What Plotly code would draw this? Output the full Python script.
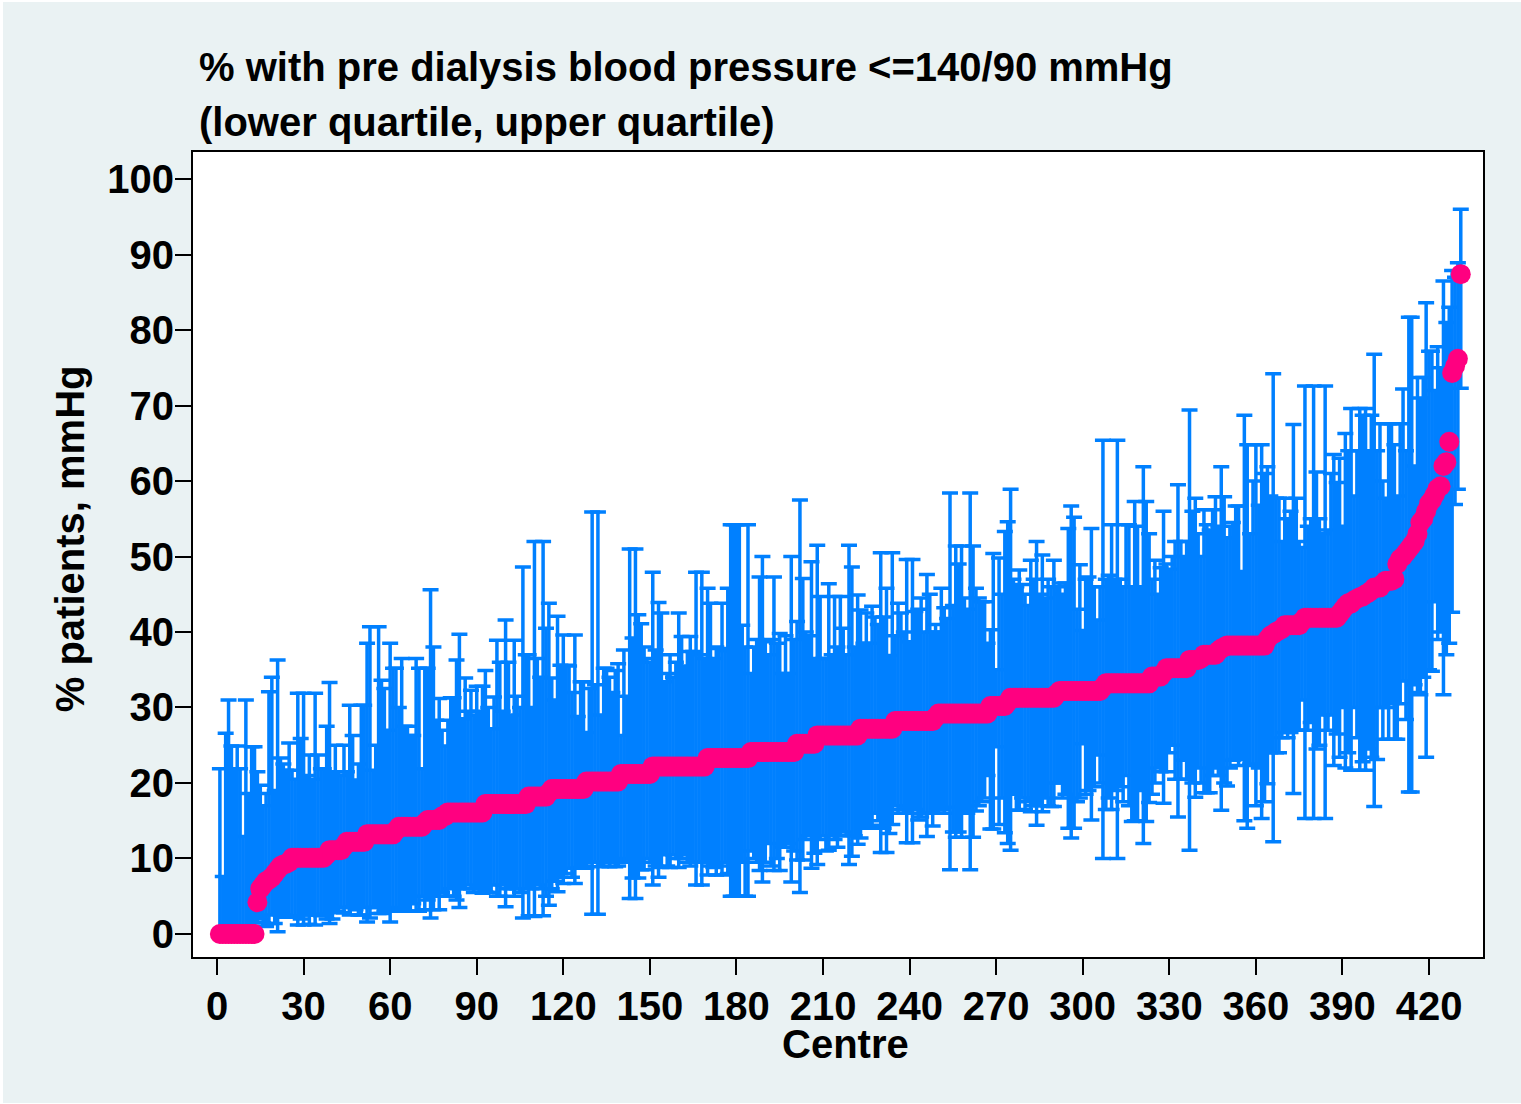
import plotly.graph_objects as go

# values, one row per ten centres
median = [
    0, 0, 0, 0, 0, 0, 0, 0, 0, 0,
    0, 0, 0, 4.2, 6, 6.5, 7, 7.2, 7.5, 8,
    8.5, 9, 9.2, 9.3, 9.5, 10.1, 10.1, 10.1, 10.1, 10.1,
    10.1, 10.1, 10.1, 10.1, 10.1, 10.1, 10.1, 10.5, 11.1, 11.1,
    11.1, 11.1, 11.1, 11.6, 12.2, 12.2, 12.2, 12.2, 12.2, 12.2,
    12.2, 13.2, 13.2, 13.2, 13.2, 13.2, 13.2, 13.2, 13.2, 13.2,
    13.2, 13.7, 14.2, 14.2, 14.2, 14.2, 14.2, 14.2, 14.2, 14.2,
    14.2, 14.7, 15.1, 15.1, 15.1, 15.1, 15.1, 15.6, 15.6, 16.1,
    16.1, 16.1, 16.1, 16.1, 16.1, 16.1, 16.1, 16.1, 16.1, 16.1,
    16.1, 16.1, 17.2, 17.2, 17.2, 17.2, 17.2, 17.2, 17.2, 17.2,
    17.2, 17.2, 17.2, 17.2, 17.2, 17.2, 17.2, 18.2, 18.2, 18.2,
    18.2, 18.2, 18.2, 18.2, 18.7, 19.2, 19.2, 19.2, 19.2, 19.2,
    19.2, 19.2, 19.2, 19.2, 19.2, 19.2, 19.2, 20.2, 20.2, 20.2,
    20.2, 20.2, 20.2, 20.2, 20.2, 20.2, 20.2, 20.2, 20.2, 21.2,
    21.2, 21.2, 21.2, 21.2, 21.2, 21.2, 21.2, 21.2, 21.2, 21.2,
    22.2, 22.2, 22.2, 22.2, 22.2, 22.2, 22.2, 22.2, 22.2, 22.2,
    22.2, 22.2, 22.2, 22.2, 22.2, 22.2, 22.2, 22.2, 22.2, 23.3,
    23.3, 23.3, 23.3, 23.3, 23.3, 23.3, 23.3, 23.3, 23.3, 23.3,
    23.3, 23.3, 23.3, 23.3, 24.1, 24.1, 24.1, 24.1, 24.1, 24.1,
    24.1, 24.1, 24.1, 24.1, 24.1, 24.1, 24.1, 24.1, 24.1, 24.1,
    25.2, 25.2, 25.2, 25.2, 25.2, 25.2, 25.2, 26.3, 26.3, 26.3,
    26.3, 26.3, 26.3, 26.3, 26.3, 26.3, 26.3, 26.3, 26.3, 26.3,
    26.3, 26.3, 27.2, 27.2, 27.2, 27.2, 27.2, 27.2, 27.2, 27.2,
    27.2, 27.2, 27.2, 27.2, 28.2, 28.2, 28.2, 28.2, 28.2, 28.2,
    28.2, 28.2, 28.2, 28.2, 28.2, 28.2, 28.2, 28.2, 28.7, 29.2,
    29.2, 29.2, 29.2, 29.2, 29.2, 29.2, 29.2, 29.2, 29.2, 29.2,
    29.2, 29.2, 29.2, 29.2, 29.2, 29.2, 29.2, 30.2, 30.2, 30.2,
    30.2, 30.2, 30.2, 30.7, 31.3, 31.3, 31.3, 31.3, 31.3, 31.3,
    31.3, 31.3, 31.3, 31.3, 31.3, 31.3, 31.3, 31.3, 31.3, 31.3,
    31.8, 32.2, 32.2, 32.2, 32.2, 32.2, 32.2, 32.2, 32.2, 32.2,
    32.2, 32.2, 32.2, 32.2, 32.2, 32.2, 32.7, 33.2, 33.2, 33.2,
    33.2, 33.2, 33.2, 33.2, 33.2, 33.2, 33.2, 33.2, 33.2, 33.2,
    33.2, 33.2, 33.2, 34.1, 34.1, 34.1, 34.1, 34.6, 35.2, 35.2,
    35.2, 35.2, 35.2, 35.2, 35.2, 35.2, 36.3, 36.3, 36.3, 36.3,
    36.5, 37, 37, 37, 37, 37, 37.5, 37.8, 38, 38.2,
    38.2, 38.2, 38.2, 38.2, 38.2, 38.2, 38.2, 38.2, 38.2, 38.2,
    38.2, 38.2, 38.2, 39, 39.5, 39.7, 40, 40.2, 40.4, 40.9,
    40.9, 40.9, 40.9, 40.9, 40.9, 41.4, 41.9, 41.9, 41.9, 41.9,
    41.9, 41.9, 41.9, 41.9, 41.9, 41.9, 41.9, 41.9, 42.4, 42.9,
    43.4, 43.8, 43.8, 44.2, 44.4, 44.6, 44.7, 45, 45.2, 45.5,
    45.9, 45.9, 45.9, 46.4, 46.8, 46.8, 46.8, 47, 49, 49.7,
    50, 50.5, 51, 51.5, 52, 53, 54.5, 55, 56, 57,
    57.5, 58.2, 59, 59.3, 62, 62.5, 65.2, 74.3, 75.2, 76.2,
    87.4,
]
upper = [
    21.9, 7.6, 26.6, 31, 24.9, 21.9, 24.9, 21.9, 12.9, 31,
    18.6, 24.8, 24.8, 21.5, 19.7, 17, 18.6, 32.1, 34, 19,
    36.3, 23.3, 22.5, 21.7, 25.3, 21.7, 20.5, 31.9, 25.9, 31.9,
    21, 23.7, 20.5, 31.9, 23.7, 21.9, 21.9, 27.5, 33.3, 21.5,
    25, 21.5, 21, 25, 21.5, 30.3, 26.3, 20.4, 22.5, 30.3,
    30.3, 38.5, 40.7, 21.7, 25, 40.7, 33.6, 32.5, 27, 38.5,
    35.2, 35.2, 30, 36.5, 27.5, 27.5, 26.3, 26.3, 36.5, 35.2,
    21.9, 35.2, 35.2, 45.6, 38, 28.3, 31.2, 27, 24.9, 28.3,
    31.3, 31.3, 36.3, 39.7, 28.5, 33.9, 29.5, 32.3, 29, 32.8,
    29.5, 32.8, 34.9, 30, 27.2, 31.4, 38.9, 36, 29.5, 41.6,
    36, 29, 38.9, 31.5, 30, 48.6, 37, 37, 30, 52,
    36.5, 34, 52, 40.5, 43.8, 33.9, 31, 42.1, 35.6, 39.6,
    35.6, 35.5, 32, 39.6, 28.8, 33.4, 33.4, 26.7, 32.5, 55.9,
    33, 55.9, 29, 35.2, 35.2, 34, 32, 34.9, 35.8, 26.3,
    37.6, 31.5, 51, 39.2, 51, 42.3, 41.1, 38, 36.5, 36,
    47.9, 37.6, 43.9, 42.5, 33.4, 34.5, 37, 34, 36, 42.5,
    39.4, 35.5, 37.4, 39.4, 37.4, 47.9, 37, 47.9, 36.5, 45.8,
    43.8, 36.5, 38, 37.8, 43.8, 37.5, 45.8, 54.2, 54.2, 54.2,
    54.2, 40.9, 38, 54.2, 34.5, 38, 39, 47.3, 50, 38.7,
    37, 39, 47.3, 38.5, 39.8, 34.5, 39.5, 34.5, 50, 39,
    41.4, 57.5, 47.1, 40, 39.5, 49.3, 36.5, 51.5, 44.7, 36.5,
    36.5, 46.4, 37, 44.7, 38, 44.7, 40.5, 37, 51.5, 48.6,
    38, 44.9, 42.9, 38.5, 42.5, 38.5, 43.4, 42, 41, 50.5,
    42, 45.8, 36.9, 50.5, 39.5, 43.8, 42.5, 40, 49.6, 38.7,
    49.6, 42.7, 43, 44.5, 40, 47.6, 45, 40, 41, 40,
    45.8, 43.2, 41.8, 58.4, 43.5, 51.4, 49, 51.4, 44.5, 43,
    58.4, 51.4, 45.8, 44.5, 44, 44, 38.5, 40.3, 50.4, 35,
    49.8, 45, 53.3, 54.6, 58.9, 47, 46, 48.2, 46.3, 45,
    43.5, 49.5, 47, 52, 45, 50.2, 44.5, 47, 46, 49.5,
    46, 46.5, 45, 46.5, 53.7, 56.7, 55.2, 43, 48.9, 40.2,
    47, 47.3, 53.7, 46, 41.6, 46, 65.4, 47, 47.5, 54.2,
    47, 65.4, 47, 46, 54.2, 54.2, 46, 57.3, 54, 46,
    61.9, 57.3, 53, 47, 49.5, 45, 48.5, 56, 49, 48.3,
    50, 52, 59.5, 52, 50, 52, 69.4, 56, 57.7, 53,
    50, 56.2, 54.2, 53.5, 56.2, 57.9, 54, 61.9, 57.9, 52.5,
    54, 54.5, 56.7, 56.7, 48, 68.7, 64.8, 53, 60, 64.8,
    56.8, 64.8, 61, 61.9, 58, 74.2, 57.7, 57.7, 52, 57.7,
    55, 56, 67.5, 57.7, 52, 51.2, 72.6, 54, 55, 72.6,
    61.2, 55, 53, 72.6, 53.5, 61, 63.5, 59.8, 63, 54,
    66.3, 64, 69.6, 58, 64, 69.6, 68.7, 69.6, 64, 68.7,
    76.8, 64, 67.6, 60, 57.7, 67.6, 67.6, 64.8, 58, 67.6,
    72.2, 64, 81.7, 81.7, 62, 73.7, 71, 73.7, 83.6, 77.2,
    77.2, 72, 77.8, 75, 86.5, 81, 83, 87.9, 87, 88.9,
    96,
]
lower = [
    0, 0, 0, 0, 0, 0, 0, 0, 0, 0,
    0, 0, 0, 1.5, 2, 1.5, 1, 1.4, 2.5, 1.4,
    0.3, 2.5, 2.5, 2.2, 2.2, 2.4, 2.3, 1.2, 2, 1.2,
    2.5, 1.3, 2.5, 1.2, 2.5, 2.4, 2.6, 2, 1.4, 2,
    2.8, 3, 3.5, 2.8, 3.5, 2.5, 3.6, 3.2, 2.5, 2.5,
    3.5, 1.6, 2.1, 3.5, 3.5, 2.7, 2.7, 3, 3, 1.6,
    3.5, 3.3, 3, 3, 3, 3, 3, 4, 3, 3,
    5, 3.2, 4.5, 2.1, 3.2, 5, 3.2, 5.5, 5, 5,
    6, 5, 4.5, 3.5, 6, 6, 6.5, 6, 5.5, 6,
    6, 5.4, 5.6, 5.5, 5.5, 6.5, 5, 5, 6.5, 3.6,
    6, 6, 5, 6, 5.5, 2.1, 6, 2.4, 6, 2.3,
    6.5, 6, 2.4, 5, 3.8, 6, 7, 5.6, 7.5, 6.7,
    8, 8.7, 7.5, 6.7, 8.7, 8.8, 9, 8.7, 9.5, 2.6,
    9.5, 2.6, 8.9, 9, 9.5, 8.9, 9.8, 8.9, 9, 9.6,
    10, 9.5, 4.7, 7.4, 4.7, 7.4, 8.5, 8.5, 10, 9.5,
    6.5, 9, 7.5, 8.8, 10.5, 9, 8.8, 10.5, 10, 8.8,
    10, 10.5, 9.5, 9, 9.5, 6.5, 9.5, 6.5, 9.5, 7.8,
    9, 8.8, 7.8, 9, 7.8, 9.5, 8, 5, 5, 5,
    5, 9.5, 5, 5, 11, 10, 9.5, 8.4, 6.9, 9.5,
    12, 9, 8.4, 10, 8.4, 11.5, 11.5, 12, 6.9, 11,
    9.8, 5.5, 9.8, 12.5, 13, 8.7, 10.7, 9.2, 12.5, 13,
    11, 11.1, 13, 12.5, 11.5, 13, 13.5, 13, 9.2, 10.3,
    13, 11.9, 12.7, 14, 14.3, 14, 14.4, 16, 15, 10.8,
    14, 10.8, 13.3, 14.5, 17, 16, 16.5, 16, 12.1, 16,
    12.1, 16.5, 15.1, 15.5, 16, 12.9, 16, 14.3, 16, 16,
    16.5, 16, 16.8, 8.5, 13.5, 12.8, 13.5, 12.8, 16.3, 16,
    8.5, 12.8, 16.3, 17, 17.5, 18, 21, 13.9, 13.9, 24.8,
    14.5, 18, 13.4, 12, 11.1, 18.5, 16.4, 16.4, 18, 16.5,
    17.5, 16.2, 17, 14.4, 17, 16.2, 18, 17, 16.9, 16.9,
    20, 20, 18, 18.5, 14, 12.7, 14, 17.5, 18, 25.2,
    18.5, 19, 15.1, 19.5, 23.7, 20, 10, 16.5, 18, 16.5,
    19, 10, 19.5, 17.5, 21, 17, 14.9, 15, 15, 19,
    12, 14.9, 17.4, 18.5, 20, 22, 21.5, 17.3, 21.5, 24,
    25, 20.5, 15.5, 20.5, 23, 20.5, 11.1, 20, 18.1, 22,
    20, 18.7, 18.7, 18.7, 21, 22, 21, 16.4, 20, 19.6,
    22, 23, 23.1, 22.3, 23.1, 15, 14, 22.5, 22.3, 17,
    22, 15.3, 17.5, 19.9, 24, 12.2, 24, 24, 26, 26.7,
    26, 26.7, 18.6, 27, 27, 31, 15.3, 27, 28, 15.3,
    24.5, 25, 29, 15.3, 27, 29, 22.3, 26.5, 23.4, 30,
    22, 24, 21.7, 30, 26, 21.7, 22.8, 21.7, 24.5, 23.4,
    16.9, 23.1, 30, 25.8, 30, 25.8, 30.5, 25.8, 25.8, 30.5,
    33.5, 28.4, 18.8, 18.8, 33, 32, 31.7, 34, 23.4, 35,
    34.8, 44, 39, 40, 31.7, 37, 38.5, 42.6, 56.9, 58.9,
    72.3,
]
centre = list(range(1, len(median) + 1))

x_ticks = list(range(0, 421, 30))
y_ticks = list(range(0, 101, 10))

BLUE = "#0080ff"
PINK = "#ff0080"
FONT = "Liberation Sans"

fig = go.Figure()
fig.add_trace(
    go.Scatter(
        x=centre,
        y=median,
        mode="markers",
        marker=dict(color=PINK, size=20),
        error_y=dict(
            type="data",
            symmetric=False,
            array=[u - m for u, m in zip(upper, median)],
            arrayminus=[m - l for m, l in zip(median, lower)],
            color=BLUE,
            thickness=3.5,
            width=8,
        ),
    )
)

axis_font = dict(family=FONT, size=40, color="black", weight=700)
fig.update_xaxes(
    range=[-8.32, 438.7],
    tickvals=x_ticks,
    ticks="outside",
    ticklen=16,
    tickwidth=2,
    tickcolor="black",
    tickfont=axis_font,
    ticklabelstandoff=-3,
    showline=True,
    linecolor="black",
    linewidth=2,
    mirror=True,
    showgrid=False,
    zeroline=False,
)
fig.update_yaxes(
    range=[-3.05, 103.58],
    tickvals=y_ticks,
    ticks="outside",
    ticklen=16,
    tickwidth=2,
    tickcolor="black",
    tickfont=axis_font,
    ticklabelstandoff=-7,
    showline=True,
    linecolor="black",
    linewidth=2,
    mirror=True,
    showgrid=False,
    zeroline=False,
)
fig.update_layout(
    width=1518,
    height=1101,
    margin=dict(l=190, r=38, t=150, b=146),
    paper_bgcolor="#eaf2f3",
    plot_bgcolor="white",
    showlegend=False,
    annotations=[
        dict(
            text="% with pre dialysis blood pressure &lt;=140/90 mmHg",
            xref="paper", yref="paper", x=0.0034, y=1.105,
            xanchor="left", yanchor="middle", showarrow=False, font=axis_font,
        ),
        dict(
            text="(lower quartile, upper quartile)",
            xref="paper", yref="paper", x=0.0034, y=1.037,
            xanchor="left", yanchor="middle", showarrow=False, font=axis_font,
        ),
        dict(
            text="% patients, mmHg",
            xref="paper", yref="paper", x=-0.0953, y=0.519, textangle=-90,
            xanchor="center", yanchor="middle", showarrow=False, font=axis_font,
        ),
        dict(
            text="Centre",
            xref="paper", yref="paper", x=0.506, y=-0.108,
            xanchor="center", yanchor="middle", showarrow=False, font=axis_font,
        ),
    ],
)

fig.write_html(
    "out.html",
    post_script="document.body.style.margin='2px 0 0 3px';document.body.style.overflow='hidden';",
)
